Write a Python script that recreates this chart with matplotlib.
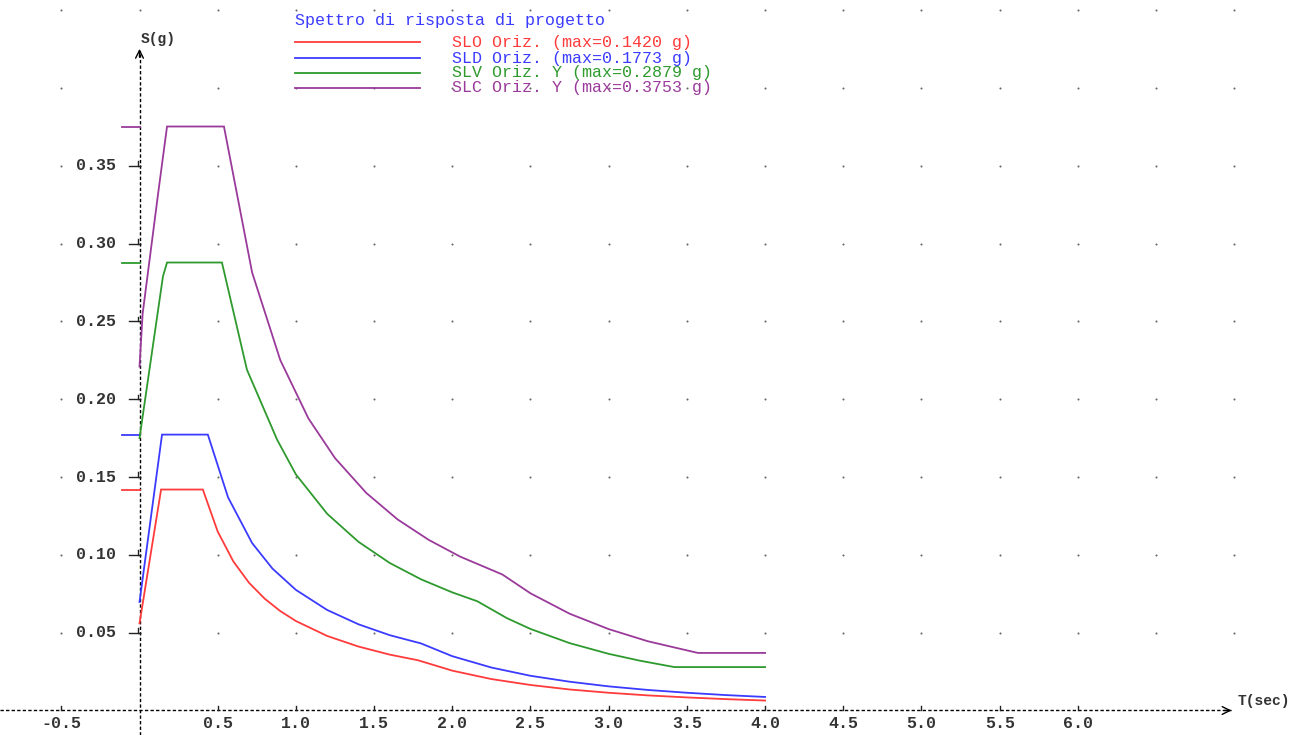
import matplotlib
matplotlib.use("Agg")
import matplotlib.pyplot as plt
import numpy as np

# ---------------- data ----------------
slo_T = [0.0, 0.138, 0.405, 0.5, 0.6, 0.7, 0.8, 0.9, 1.0, 1.2, 1.4, 1.6, 1.78,
         2.0, 2.25, 2.5, 2.75, 3.0, 3.25, 3.5, 3.75, 4.0]
slo_S = [0.056, 0.142, 0.142, 0.115, 0.0958, 0.0821, 0.0719, 0.0639, 0.0575,
         0.0479, 0.0411, 0.0359, 0.0323, 0.0256, 0.0202, 0.0164, 0.0135,
         0.0114, 0.0097, 0.0084, 0.0073, 0.0064]

sld_T = [0.0, 0.144, 0.437, 0.566, 0.72, 0.85, 1.0, 1.2, 1.4, 1.6, 1.8, 2.0,
         2.25, 2.5, 2.75, 3.0, 3.25, 3.5, 3.75, 4.0]
sld_S = [0.0697, 0.1773, 0.1773, 0.137, 0.1076, 0.0912, 0.0775, 0.0646,
         0.0554, 0.0484, 0.0431, 0.0349, 0.0276, 0.0223, 0.0185, 0.0155,
         0.0132, 0.0114, 0.0099, 0.0087]

slv_T = [0.0, 0.15, 0.176, 0.527, 0.687, 0.88, 1.0, 1.2, 1.4, 1.6, 1.8, 2.0,
         2.16, 2.35, 2.5, 2.75, 3.0, 3.2, 3.42, 4.0]
slv_S = [0.175, 0.279, 0.2879, 0.2879, 0.219, 0.174, 0.1517, 0.1264, 0.1084,
         0.0948, 0.0843, 0.0759, 0.0702, 0.0593, 0.0524, 0.0433, 0.0364,
         0.0320, 0.0279, 0.0279]

slc_T = [0.0, 0.02, 0.12, 0.176, 0.54, 0.72, 0.9, 1.08, 1.25, 1.45, 1.65,
         1.85, 2.05, 2.32, 2.5, 2.75, 3.0, 3.25, 3.57, 4.0]
slc_S = [0.221, 0.255, 0.333, 0.3753, 0.3753, 0.2815, 0.2252, 0.1877, 0.1622,
         0.1398, 0.1228, 0.1096, 0.0989, 0.0874, 0.0753, 0.0622, 0.0523,
         0.0445, 0.0370, 0.0370]

series_labels = ["SLO Oriz. (max=0.1420 g)", "SLD Oriz. (max=0.1773 g)",
                 "SLV Oriz. Y (max=0.2879 g)", "SLC Oriz. Y (max=0.3753 g)"]
series_max = [0.1420, 0.1773, 0.2879, 0.3753]
series_colors = ["#ff3b3b", "#3b3bff", "#2e9a2e", "#9a3a9a"]

x_tick_vals = [-0.5, 0.5, 1.0, 1.5, 2.0, 2.5, 3.0, 3.5, 4.0, 4.5, 5.0, 5.5, 6.0]
x_tick_labels = ["-0.5", "0.5", "1.0", "1.5", "2.0", "2.5", "3.0", "3.5",
                 "4.0", "4.5", "5.0", "5.5", "6.0"]
y_tick_vals = [0.05, 0.10, 0.15, 0.20, 0.25, 0.30, 0.35]
y_tick_labels = ["0.05", "0.10", "0.15", "0.20", "0.25", "0.30", "0.35"]

title_text = "Spettro di risposta di progetto"

# ---------------- figure ----------------
fig = plt.figure(figsize=(13.07, 7.35), dpi=100)
ax = fig.add_axes([0, 0, 1, 1])
ax.set_xlim(-0.892, 7.465)
ax.set_ylim(-0.01575, 0.4566)
ax.axis("off")

mono = "Liberation Mono"
txtcol = "#333333"

# dotted grid
gx = np.arange(-0.5, 7.01, 0.5)
gy = np.arange(0.05, 0.451, 0.05)
GX, GY = np.meshgrid(gx, gy)
ax.scatter(GX.ravel(), GY.ravel(), s=2.2, color="#666666", lw=0, zorder=1)

# axes lines (dashed) with arrow heads
ax.plot([-0.892, 6.99], [0, 0], color="black", lw=1.0,
        linestyle=(0, (2.4, 1.6)), zorder=2)
ax.plot([0, 0], [-0.01575, 0.424], color="black", lw=1.0,
        linestyle=(0, (2.4, 1.6)), zorder=2)
ax.annotate("", xy=(7.0, 0), xytext=(6.92, 0),
            arrowprops=dict(arrowstyle="->", color="black", lw=1.0,
                            mutation_scale=14), zorder=3)
ax.annotate("", xy=(0, 0.427), xytext=(0, 0.418),
            arrowprops=dict(arrowstyle="->", color="black", lw=1.0,
                            mutation_scale=14), zorder=3)

ax.text(7.02, 0.0015, "T(sec)", fontfamily=mono, fontweight="bold",
        fontsize=10.5, color=txtcol, ha="left", va="bottom")
ax.text(0.01, 0.4315, "S(g)", fontfamily=mono, fontweight="bold",
        fontsize=10.5, color=txtcol, ha="left", va="center")

# y ticks
for v, lab in zip(y_tick_vals, y_tick_labels):
    ax.plot([-0.07, 0], [v, v], color="#222222", lw=1.0, zorder=3)
    ax.plot([-0.01, -0.01], [v, v + 0.003], color="#222222", lw=1.0, zorder=3)
    ax.text(-0.15, v, lab, fontfamily=mono, fontweight="bold", fontsize=12,
            color=txtcol, ha="right", va="center")

# x ticks
for v, lab in zip(x_tick_vals, x_tick_labels):
    ax.plot([v, v], [0, 0.003], color="#222222", lw=1.0, zorder=3)
    ax.text(v, -0.0085, lab, fontfamily=mono, fontweight="bold", fontsize=12,
            color=txtcol, ha="center", va="center")

# curves
curves = [(slo_T, slo_S), (sld_T, sld_S), (slv_T, slv_S), (slc_T, slc_S)]
for (T, S), c, m in zip(curves, series_colors, series_max):
    ax.plot(T, S, color=c, lw=1.3, zorder=4, solid_joinstyle="miter")
    ax.plot([-0.11, 0], [m, m], color=c, lw=1.3, zorder=4)

# legend block
ax.text(0.996, 0.4437, title_text, fontfamily=mono, fontsize=12,
        color="#3b3bff", ha="left", va="center")
leg_y = [0.4296, 0.4193, 0.4097, 0.4001]
for yy, lab, c in zip(leg_y, series_labels, series_colors):
    ax.plot([0.996, 1.794], [yy, yy], color=c, lw=1.3)
    ax.text(1.998, yy, lab, fontfamily=mono, fontsize=12, color=c,
            ha="left", va="center")

fig.savefig("out.png", dpi=100)
